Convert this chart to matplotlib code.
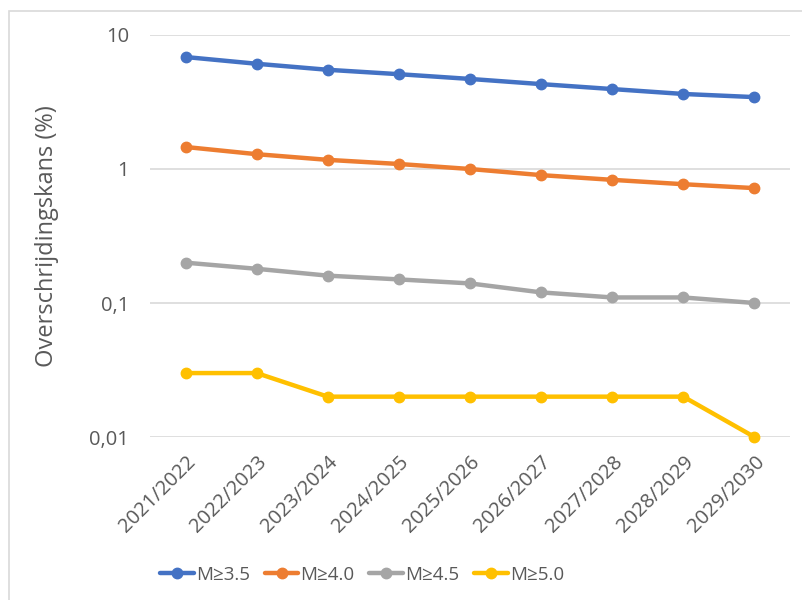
import matplotlib
matplotlib.use("Agg")
import matplotlib.pyplot as plt
import matplotlib.patches as mpatches
from matplotlib.ticker import FixedLocator, NullLocator

plt.rcParams["font.family"] = ["Open Sans", "DejaVu Sans"]

# ── Data ────────────────────────────────────────────────────────────────────
seasons = ["2021/2022", "2022/2023", "2023/2024", "2024/2025", "2025/2026",
           "2026/2027", "2027/2028", "2028/2029", "2029/2030"]
m35 = [6.85, 6.1, 5.5, 5.1, 4.7, 4.3, 3.95, 3.63, 3.44]
m40 = [1.46, 1.29, 1.17, 1.09, 1.0, 0.90, 0.83, 0.77, 0.72]
m45 = [0.20, 0.18, 0.16, 0.15, 0.14, 0.12, 0.11, 0.11, 0.10]
m50 = [0.03, 0.03, 0.02, 0.02, 0.02, 0.02, 0.02, 0.02, 0.01]
labels = ["M≥3.5", "M≥4.0", "M≥4.5", "M≥5.0"]
y_ticks = [0.01, 0.1, 1, 10]
y_ticklabels = ["0,01", "0,1", "1", "10"]

COLORS = ["#4472C4", "#ED7D31", "#A5A5A5", "#FFC000"]
TEXT = "#595959"

# ── Figure ──────────────────────────────────────────────────────────────────
fig = plt.figure(figsize=(8.02, 6.0), dpi=100)
fig.patch.set_facecolor("white")

# chart-area border (light grey, runs off the right/bottom edges)
fig.patches.append(mpatches.Rectangle(
    (9 / 802, -0.05), 1.1, 1 - 11 / 600 + 0.05,
    transform=fig.transFigure, fill=False, edgecolor="#D9D9D9", lw=1.2))

ax = fig.add_axes([150 / 802, 1 - 437 / 600, 640 / 802, 402 / 600])
x = range(len(seasons))
for series, color, lab in zip([m35, m40, m45, m50], COLORS, labels):
    ax.plot(x, series, color=color, lw=3.2, marker="o", markersize=7.5,
            label=lab, solid_capstyle="round", zorder=3, clip_on=False)

ax.set_yscale("log")
ax.set_ylim(0.01, 10)
ax.set_xlim(-0.5, len(seasons) - 0.5)
ax.yaxis.set_major_locator(FixedLocator(y_ticks))
ax.yaxis.set_minor_locator(NullLocator())
ax.set_yticklabels(y_ticklabels)
ax.set_xticks(list(x))
ax.set_xticklabels(seasons, rotation=45, ha="right", rotation_mode="anchor")

ax.tick_params(axis="both", length=0, colors=TEXT, labelsize=14.5)
ax.tick_params(axis="y", pad=15)
ax.tick_params(axis="x", pad=11)
ax.grid(axis="y", color="#D9D9D9", lw=1.2, zorder=0)
for spine in ax.spines.values():
    spine.set_visible(False)

fig.text(47 / 802, 1 - 236 / 600, "Overschrijdingskans (%)", rotation=90,
         ha="center", va="center", color=TEXT, fontsize=17)

fig.legend(loc="center", bbox_to_anchor=(362 / 802, 1 - 575 / 600),
           ncol=4, frameon=False, fontsize=13.5, labelcolor=TEXT,
           handlelength=1.8, handletextpad=0.1, columnspacing=0.8)

fig.savefig("out.png", dpi=100, facecolor=fig.get_facecolor())
